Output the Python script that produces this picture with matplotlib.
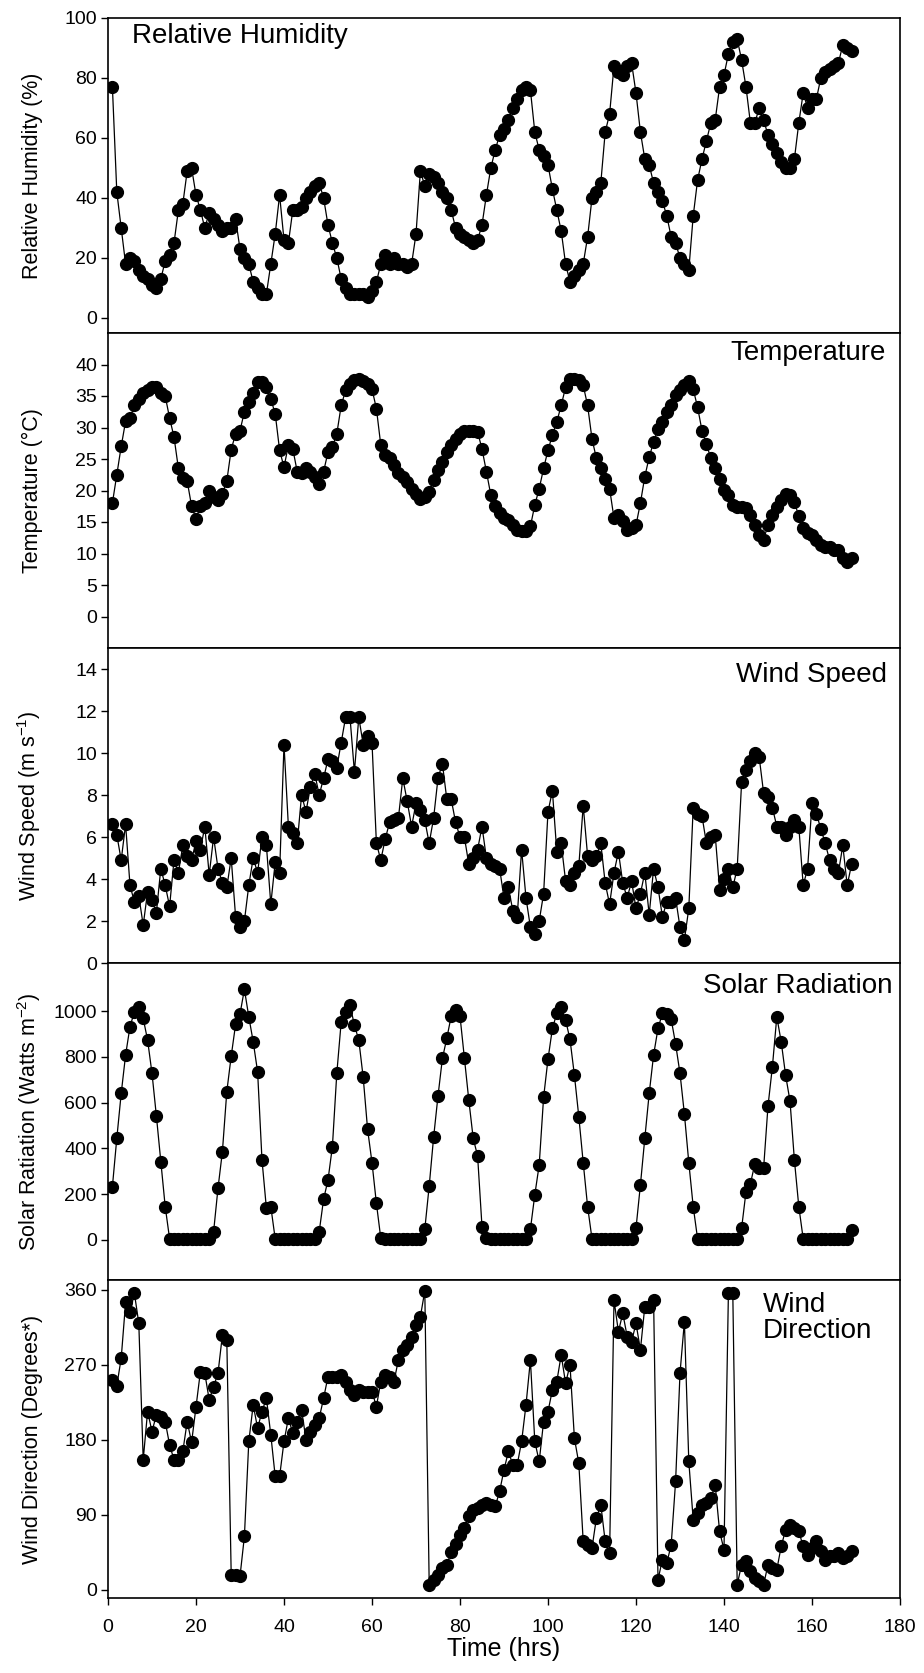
# -*- coding: utf-8 -*-
# Weather station record: five stacked panels sharing one time axis.

import numpy as np
import matplotlib
matplotlib.use("Agg")
import matplotlib.pyplot as plt

# hourly readings, hour 1 .. 169
hours = np.arange(1, 170)

rel_humidity = [77, 42, 30, 18, 20, 19, 16, 14, 13, 11,
                10, 13, 19, 21, 25, 36, 38, 49, 50, 41,
                36, 30, 35, 33, 31, 29, 30, 30, 33, 23,
                20, 18, 12, 10, 8, 8, 18, 28, 41, 26,
                25, 36, 36, 37, 40, 42, 44, 45, 40, 31,
                25, 20, 13, 10, 8, 8, 8, 8, 7, 9,
                12, 18, 21, 18, 20, 18, 18, 17, 18, 28,
                49, 44, 48, 47, 45, 42, 40, 36, 30, 28,
                27, 26, 25, 26, 31, 41, 50, 56, 61, 63,
                66, 70, 73, 76, 77, 76, 62, 56, 54, 51,
                43, 36, 29, 18, 12, 14, 16, 18, 27, 40,
                42, 45, 62, 68, 84, 82, 81, 84, 85, 75,
                62, 53, 51, 45, 42, 39, 34, 27, 25, 20,
                18, 16, 34, 46, 53, 59, 65, 66, 77, 81,
                88, 92, 93, 86, 77, 65, 65, 70, 66, 61,
                58, 55, 52, 50, 50, 53, 65, 75, 70, 73,
                73, 80, 82, 83, 84, 85, 91, 90, 89]

temperature = [18, 22.5, 27, 31, 31.5, 33.5, 34.5, 35.5, 36, 36.5,
               36.5, 35.5, 35, 31.5, 28.5, 23.5, 22, 21.5, 17.5, 15.5,
               17.5, 18, 20, 19, 18.5, 19.5, 21.5, 26.5, 29, 29.5,
               32.5, 34, 35.5, 37.2, 37.3, 36.4, 34.5, 32.2, 26.4, 23.7,
               27.2, 26.6, 23, 22.7, 23.5, 23, 22.2, 21.1, 23, 26.1,
               26.9, 29, 33.5, 35.9, 36.9, 37.6, 37.7, 37.4, 36.9, 36.1,
               33, 27.2, 25.6, 25.1, 24, 22.7, 22.2, 21.4, 20.3, 19.5,
               18.7, 19, 19.8, 21.6, 23.2, 24.5, 26.1, 27.2, 28.2, 29,
               29.5, 29.5, 29.5, 29.3, 26.6, 23, 19.3, 17.5, 16.4, 15.6,
               15.3, 14.5, 13.7, 13.5, 13.5, 14.3, 17.7, 20.3, 23.5, 26.4,
               28.8, 30.9, 33.5, 36.4, 37.7, 37.7, 37.5, 36.7, 33.5, 28.2,
               25.1, 23.5, 21.9, 20.3, 15.6, 16.1, 15.1, 13.7, 14, 14.5,
               18, 22.2, 25.3, 27.7, 29.8, 30.9, 32.4, 33.5, 35.1, 35.9,
               36.7, 37.4, 36.1, 33.2, 29.5, 27.4, 25.1, 23.5, 21.9, 20.1,
               19.3, 17.7, 17.4, 17.4, 17.2, 16.1, 14.5, 13, 12.2, 14.5,
               16.1, 17.4, 18.5, 19.5, 19.3, 18.2, 15.9, 14, 13.2, 13,
               12.2, 11.4, 11.1, 11.1, 10.6, 10.5, 9.3, 8.7, 9.3]

wind_speed = [6.6, 6.1, 4.9, 6.6, 3.7, 2.9, 3.2, 1.8, 3.4, 3.0,
              2.4, 4.5, 3.7, 2.7, 4.9, 4.3, 5.6, 5.1, 4.9, 5.8,
              5.4, 6.5, 4.2, 6.0, 4.5, 3.8, 3.6, 5.0, 2.2, 1.7,
              2.0, 3.7, 5.0, 4.3, 6.0, 5.6, 2.8, 4.8, 4.3, 10.4,
              6.5, 6.2, 5.7, 8.0, 7.2, 8.4, 9.0, 8.0, 8.8, 9.7,
              9.6, 9.3, 10.5, 11.7, 11.7, 9.1, 11.7, 10.4, 10.8, 10.5,
              5.7, 4.9, 5.9, 6.7, 6.8, 6.9, 8.8, 7.7, 6.5, 7.6,
              7.3, 6.8, 5.7, 6.9, 8.8, 9.5, 7.8, 7.8, 6.7, 6.0,
              6.0, 4.7, 5.0, 5.4, 6.5, 5.0, 4.7, 4.6, 4.5, 3.1,
              3.6, 2.5, 2.2, 5.4, 3.1, 1.7, 1.4, 2.0, 3.3, 7.2,
              8.2, 5.3, 5.7, 3.9, 3.7, 4.3, 4.6, 7.5, 5.1, 4.9,
              5.1, 5.7, 3.8, 2.8, 4.3, 5.3, 3.8, 3.1, 3.9, 2.6,
              3.3, 4.3, 2.3, 4.5, 3.6, 2.2, 2.9, 2.9, 3.1, 1.7,
              1.1, 2.6, 7.4, 7.1, 7.0, 5.7, 6.0, 6.1, 3.5, 4.0,
              4.5, 3.6, 4.5, 8.6, 9.2, 9.6, 10.0, 9.8, 8.1, 7.9,
              7.4, 6.5, 6.5, 6.1, 6.5, 6.8, 6.5, 3.7, 4.5, 7.6,
              7.1, 6.4, 5.7, 4.9, 4.5, 4.3, 5.6, 3.7, 4.7]

solar = [233, 444, 640, 808, 932, 997, 1019, 968, 873, 728,
         541, 342, 146, 5, 2, 2, 2, 2, 2, 2,
         2, 2, 2, 36, 226, 386, 648, 803, 942, 987,
         1095, 975, 866, 735, 349, 138, 146, 5, 2, 2,
         2, 2, 2, 2, 2, 2, 2, 36, 178, 262,
         408, 728, 953, 997, 1026, 939, 873, 710, 483, 338,
         160, 7, 2, 2, 2, 2, 2, 2, 2, 2,
         2, 47, 236, 448, 629, 793, 881, 978, 1004, 978,
         796, 611, 444, 367, 58, 7, 2, 2, 2, 2,
         2, 2, 2, 2, 2, 47, 197, 328, 623, 790,
         924, 990, 1019, 961, 876, 720, 539, 338, 146, 5,
         2, 2, 2, 2, 2, 2, 2, 2, 2, 51,
         240, 444, 640, 808, 924, 990, 987, 964, 856, 728,
         550, 338, 146, 5, 2, 2, 2, 2, 2, 2,
         2, 2, 2, 51, 211, 245, 332, 313, 313, 585,
         757, 975, 866, 720, 607, 349, 146, 5, 2, 2,
         2, 2, 2, 2, 2, 2, 2, 2, 44]

wind_dir = [252, 245, 278, 345, 333, 356, 320, 156, 214, 190,
            210, 208, 202, 174, 156, 156, 166, 202, 177, 220,
            262, 260, 228, 244, 260, 306, 300, 18, 18, 16,
            64, 178, 222, 194, 214, 230, 186, 136, 136, 178,
            206, 188, 202, 216, 180, 190, 198, 206, 230, 256,
            256, 256, 258, 250, 240, 234, 240, 238, 238, 238,
            220, 250, 258, 256, 250, 276, 288, 294, 304, 318,
            328, 359, 6, 12, 18, 26, 30, 45, 55, 66,
            74, 88, 96, 98, 102, 104, 102, 100, 118, 144,
            166, 150, 150, 178, 222, 276, 178, 154, 202, 214,
            240, 250, 282, 248, 270, 182, 152, 58, 54, 50,
            86, 102, 58, 44, 348, 310, 332, 304, 298, 320,
            288, 340, 340, 348, 12, 36, 32, 54, 130, 260,
            322, 154, 84, 92, 102, 104, 110, 126, 70, 48,
            356, 356, 6, 30, 34, 22, 14, 10, 6, 30,
            26, 24, 52, 72, 78, 74, 70, 52, 42, 50,
            58, 46, 36, 40, 40, 44, 38, 40, 46]

series = [rel_humidity, temperature, wind_speed, solar, wind_dir]
ylabels = ["Relative Humidity (%)", "Temperature (\u00b0C)",
           "Wind Speed (m s$^{-1}$)", "Solar Ratiation (Watts m$^{-2}$)",
           "Wind Direction (Degrees*)"]
titles = ["Relative Humidity", "Temperature", "Wind Speed",
          "Solar Radiation", "Wind\nDirection"]
ylims = [(-5, 100), (-5, 45), (0, 15), (-175, 1210), (-10, 372)]
yticks = [np.arange(0, 101, 20), np.arange(0, 41, 5), np.arange(0, 15, 2),
          np.arange(0, 1001, 200), np.arange(0, 361, 90)]
xticks = np.arange(0, 181, 20)

# fonts - Arial look-alike
plt.rcParams['font.family'] = ['Liberation Sans', 'DejaVu Sans']
plt.rcParams['mathtext.fontset'] = 'custom'
plt.rcParams['mathtext.rm'] = 'Liberation Sans'
plt.rcParams['mathtext.it'] = 'Liberation Sans'
plt.rcParams['mathtext.default'] = 'regular'

W, H = 924, 1673
fig = plt.figure(figsize=(W / 100, H / 100), dpi=100)

# panel edges in pixels from the top of the picture
edges = [18, 333, 648, 963, 1280, 1598]
left_px, right_px = 108, 900

# where the panel names sit (axes fraction) and how they are aligned
title_pos = [(0.03, 0.943, 'left'), (0.982, 0.937, 'right'),
             (0.983, 0.914, 'right'), (0.99, 0.927, 'right'),
             (0.827, 0.88, 'left')]

axes = []
for i in range(5):
    top, bot = edges[i], edges[i + 1]
    ax = fig.add_axes([left_px / W, 1 - bot / H,
                       (right_px - left_px) / W, (bot - top) / H])
    ax.plot(hours, series[i], color='black', lw=0.9, marker='o',
            ms=8.5, mfc='black', mec='black', zorder=3)
    ax.set_xlim(0, 180)
    ax.set_ylim(*ylims[i])
    ax.set_yticks(yticks[i])
    ax.set_xticks(xticks)
    ax.tick_params(axis='y', direction='out', length=5, width=1,
                   labelsize=14, pad=3)
    ax.tick_params(axis='x', direction='out', length=5, width=1,
                   labelsize=14, pad=10)
    ax.set_ylabel(ylabels[i], fontsize=15.5)
    ax.yaxis.set_label_coords(-0.082, 0.5)
    for s in ax.spines.values():
        s.set_linewidth(1.2)
    tx, ty, ha = title_pos[i]
    ax.text(tx, ty, titles[i], transform=ax.transAxes, fontsize=20,
            ha=ha, va='center', linespacing=1.0)
    if i < 4:
        ax.tick_params(axis='x', bottom=False, labelbottom=False)
    axes.append(ax)

axes[-1].set_xlabel("Time (hrs)", fontsize=18, labelpad=1)

fig.savefig("out.png", dpi=100, facecolor='white')
